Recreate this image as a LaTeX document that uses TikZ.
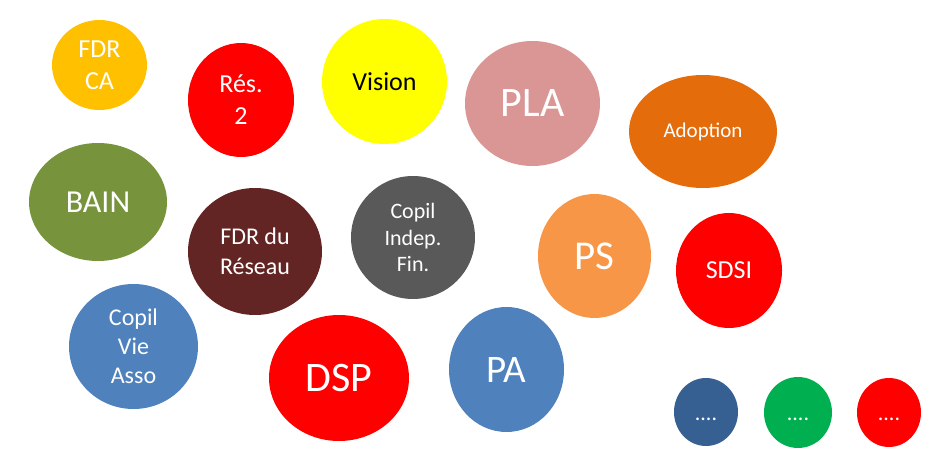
\documentclass[tikz,border=0pt]{standalone}
\usepackage{fontspec}
\setmainfont{Carlito}
\usetikzlibrary{shapes.geometric}
\definecolor{cGold}{HTML}{FFC000}
\definecolor{cRed}{HTML}{FF0000}
\definecolor{cYellow}{HTML}{FFFF00}
\definecolor{cOlive}{HTML}{77933C}
\definecolor{cBrown}{HTML}{632523}
\definecolor{cGrey}{HTML}{595959}
\definecolor{cPink}{HTML}{D99694}
\definecolor{cOrangeDk}{HTML}{E46C0A}
\definecolor{cOrange}{HTML}{F79646}
\definecolor{cBlue}{HTML}{4F81BD}
\definecolor{cNavy}{HTML}{376092}
\definecolor{cGreen}{HTML}{00B050}
\newcommand{\fs}[2]{\fontsize{#1}{#2}\selectfont}
\newcommand{\lowdots}{\raisebox{-8pt}[0pt][0pt]{....}}
\tikzset{
  bubble/.style n args={3}{ellipse, draw=none, fill=#1, inner sep=0pt,
    minimum width=#2, minimum height=#3, text=white, align=center},
}
\begin{document}
\begin{tikzpicture}[x=1pt,y=-1pt]
\useasboundingbox (0,0) rectangle (930,465);
\node[bubble={cGold}{95pt}{90pt}, font=\fs{26}{32}] (fdrca) at (99.5,65) {FDR\\CA};
\node[bubble={cRed}{106pt}{114pt}, font=\fs{26}{32}] (res2) at (241,100) {Rés.\\2};
\node[bubble={cYellow}{125pt}{125pt}, font=\fs{26}{32}, text=black] (vision) at (384.5,81.5) {Vision};
\node[bubble={cPink}{135pt}{125pt}, font=\fs{42}{50}] (pla) at (532.5,103.5) {PLA};
\node[bubble={cOrangeDk}{148pt}{113pt}, font=\fs{21}{26}] (adoption) at (703,131.5) {Adoption};
\node[bubble={cOlive}{138pt}{118pt}, font=\fs{32}{38}] (bain) at (98,202) {BAIN};
\node[bubble={cBrown}{134pt}{127pt}, font=\fs{24}{29.5}] (fdrres) at (255,251.5) {FDR du\\Réseau};
\node[bubble={cGrey}{124pt}{123pt}, font=\fs{22}{26.7}] (copilfin) at (413,237.5) {Copil\\Indep.\\Fin.};
\node[bubble={cOrange}{113pt}{124pt}, font=\fs{41}{48}] (ps) at (594.5,256) {PS};
\node[bubble={cRed}{106pt}{115pt}, font=\fs{26}{32}] (sdsi) at (729,270.5) {SDSI};
\node[bubble={cBlue}{129pt}{125pt}, font=\fs{24}{29.2}] (copilvie) at (133.5,346.5) {Copil\\Vie\\Asso};
\node[bubble={cRed}{140pt}{126pt}, font=\fs{42}{50}] (dsp) at (339,378) {DSP};
\node[bubble={cBlue}{115pt}{125pt}, font=\fs{39}{46}] (pa) at (506.5,369.5) {PA};
\node[bubble={cNavy}{64pt}{68pt}, font=\fs{22}{26}] (dots1) at (706,412) {\lowdots};
\node[bubble={cGreen}{68pt}{71pt}, font=\fs{22}{26}] (dots2) at (798,412.5) {\lowdots};
\node[bubble={cRed}{64pt}{69pt}, font=\fs{22}{26}] (dots3) at (889,412.5) {\lowdots};
\end{tikzpicture}
\end{document}
